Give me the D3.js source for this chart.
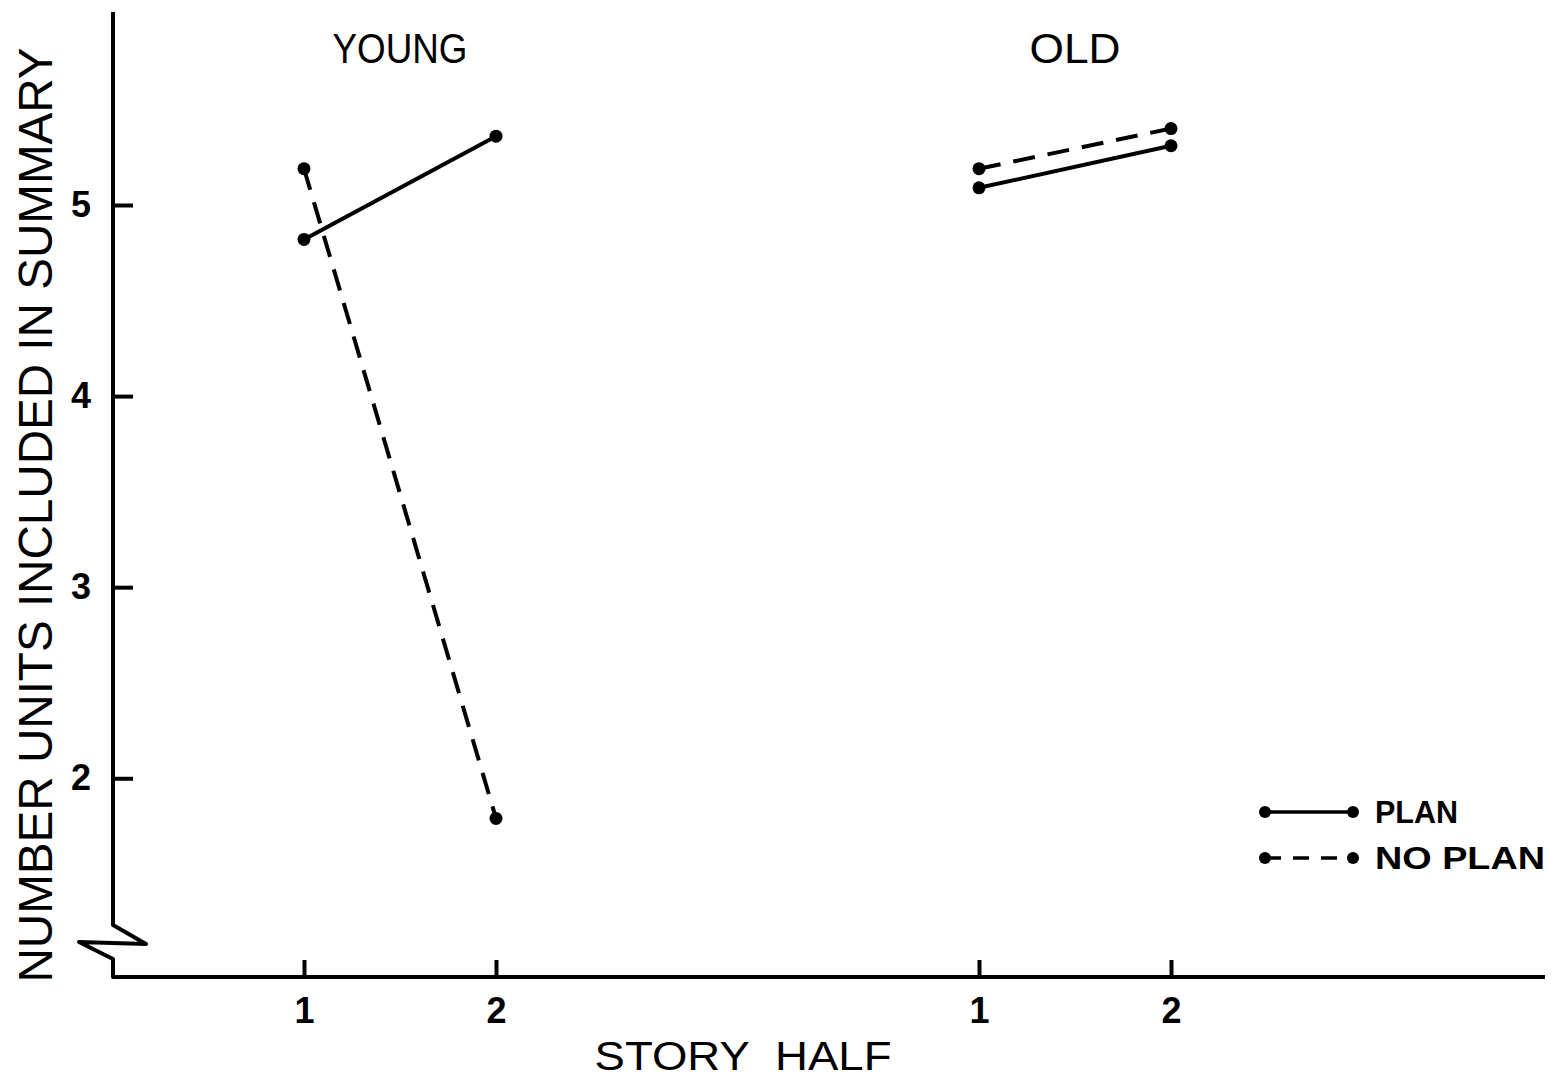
<!DOCTYPE html>
<html>
<head>
<meta charset="utf-8">
<script src="https://cdn.jsdelivr.net/npm/d3@7"></script>
<style>
  body { margin: 0; background: #fff; }
  svg { display: block; }
  text { font-family: 'Liberation Sans', Arial, sans-serif; fill: #000; }
</style>
</head>
<body>
<svg id="chart" width="1554" height="1083"></svg>
<script>
// values
var groups = ['YOUNG', 'OLD'];
var halves = [1, 2];
var yTicks = [2, 3, 4, 5];
var seriesNames = ['PLAN', 'NO PLAN'];
var youngPlan = [4.82, 5.36];
var youngNoPlan = [5.19, 1.79];
var oldPlan = [5.09, 5.31];
var oldNoPlan = [5.19, 5.40];

var series = [
    {name: 'PLAN', group: 'YOUNG', values: youngPlan},
    {name: 'NO PLAN', group: 'YOUNG', values: youngNoPlan},
    {name: 'PLAN', group: 'OLD', values: oldPlan},
    {name: 'NO PLAN', group: 'OLD', values: oldNoPlan}
];

var svg = d3.select('#chart');
var axisX = 113, axisBottom = 977, axisRight = 1545;

var y = d3.scaleLinear()
    .domain([0.96, 6.01])
    .range([axisBottom, 12]);

var xGroup = d3.scalePoint()
    .domain(groups)
    .range([304, 979]);

var xInner = d3.scaleLinear()
    .domain([1, 2])
    .range([0, 192]);

function xPos(group, half) {
    return xGroup(group) + xInner(half);
}

var dash = {'PLAN': null, 'NO PLAN': '22,13'};

// y axis ticks + labels
var yAxis = svg.append('g')
    .attr('transform', 'translate(' + axisX + ',0)')
    .call(d3.axisLeft(y).tickValues(yTicks).tickSize(-20).tickPadding(22).tickFormat(d3.format('d')));
yAxis.select('.domain').remove();
yAxis.selectAll('line').attr('stroke', '#000').attr('stroke-width', 4);
yAxis.selectAll('text')
    .attr('font-size', 36)
    .attr('font-weight', 'bold')
    .attr('fill', '#000')
    .attr('font-family', 'Liberation Sans, Arial, sans-serif');

// y axis line with break and x axis line
var brk = 925;
svg.append('path')
    .attr('d', 'M' + axisX + ',' + y.range()[1] +
        'L' + axisX + ',' + brk +
        'L' + (axisX + 33) + ',' + (brk + 19) +
        'L' + (axisX - 34) + ',' + (brk + 17) +
        'L' + axisX + ',' + (brk + 34) +
        'L' + axisX + ',' + axisBottom +
        'L' + axisRight + ',' + axisBottom)
    .attr('fill', 'none')
    .attr('stroke', '#000')
    .attr('stroke-width', 4)
    .attr('stroke-linejoin', 'round');

// x ticks per group
groups.forEach(function(gname) {
    var gx = svg.append('g')
        .attr('transform', 'translate(' + xGroup(gname) + ',' + axisBottom + ')')
        .call(d3.axisBottom(xInner).tickValues(halves).tickSize(-17).tickPadding(20).tickFormat(d3.format('d')));
    gx.select('.domain').remove();
    gx.selectAll('line').attr('stroke', '#000').attr('stroke-width', 4);
    gx.selectAll('text')
        .attr('font-size', 36)
        .attr('font-weight', 'bold')
        .attr('fill', '#000')
        .attr('font-family', 'Liberation Sans, Arial, sans-serif');

    svg.append('text')
        .attr('x', xGroup(gname) + xInner(1.5))
        .attr('y', 63)
        .attr('text-anchor', 'middle')
        .attr('font-size', 43)
        .attr('textLength', gname === 'YOUNG' ? 135 : 91)
        .attr('lengthAdjust', 'spacingAndGlyphs')
        .text(gname);
});

// lines
var line = d3.line()
    .x(function(d) { return d.x; })
    .y(function(d) { return d.y; });

series.forEach(function(s) {
    var pts = s.values.map(function(v, i) {
        return {x: xPos(s.group, halves[i]), y: y(v)};
    });
    svg.append('path')
        .attr('d', line(pts))
        .attr('fill', 'none')
        .attr('stroke', '#000')
        .attr('stroke-width', 4)
        .attr('stroke-dasharray', dash[s.name]);
    svg.selectAll(null)
        .data(pts)
        .enter().append('circle')
        .attr('cx', function(d) { return d.x; })
        .attr('cy', function(d) { return d.y; })
        .attr('r', 6.5)
        .attr('fill', '#000');
});

// axis titles
svg.append('text')
    .attr('transform', 'translate(52,515) rotate(-90)')
    .attr('text-anchor', 'middle')
    .attr('font-size', 48)
    .attr('textLength', 935)
    .attr('lengthAdjust', 'spacingAndGlyphs')
    .text('NUMBER UNITS INCLUDED IN SUMMARY');

svg.append('text')
    .attr('x', 743)
    .attr('y', 1070)
    .attr('text-anchor', 'middle')
    .attr('font-size', 40)
    .attr('textLength', 297)
    .attr('lengthAdjust', 'spacingAndGlyphs')
    .text('STORY\u00a0\u00a0HALF');

// legend
var legend = svg.append('g')
    .selectAll('g')
    .data(seriesNames)
    .enter().append('g')
    .attr('transform', function(d, i) {
        return 'translate(1265,' + (812 + i * 46) + ')';
    });

legend.append('line')
    .attr('x1', 0)
    .attr('x2', 88)
    .attr('stroke', '#000')
    .attr('stroke-width', 3.5)
    .attr('stroke-dasharray', function(d) { return d === 'NO PLAN' ? '16,12' : null; });

legend.selectAll(null)
    .data([0, 88])
    .enter().append('circle')
    .attr('cx', function(d) { return d; })
    .attr('r', 6)
    .attr('fill', '#000');

legend.append('text')
    .attr('x', 110)
    .attr('y', 11)
    .attr('font-size', 31)
    .attr('font-weight', 'bold')
    .attr('textLength', function(d) { return d === 'PLAN' ? 83 : 170; })
    .attr('lengthAdjust', 'spacingAndGlyphs')
    .text(function(d) { return d; });
</script>
</body>
</html>
